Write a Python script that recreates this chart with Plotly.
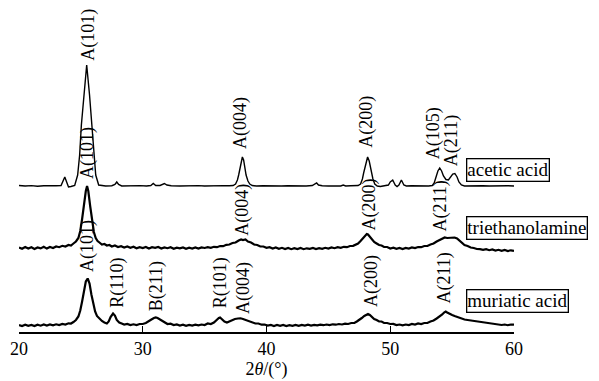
import plotly.graph_objects as go

# ---------------- data ----------------
acetic_2theta = [20.0, 20.5, 21.0, 21.5, 22.0, 22.5, 23.0, 23.4, 23.55, 23.7, 23.85, 24.0, 24.2, 24.5,
                 24.74, 24.9, 25.04, 25.24, 25.47, 25.70, 25.90, 26.04, 26.2, 26.44, 26.7, 27.0, 27.5,
                 27.75, 27.9, 28.05, 28.3, 28.8, 29.3, 29.8, 30.3, 30.65, 30.85, 31.05, 31.4, 31.6, 31.75,
                 31.95, 32.3, 33.0, 33.5, 34.0, 34.5, 35.0, 35.5, 36.0, 36.5, 37.0, 37.3, 37.5, 37.65,
                 37.75, 37.87, 37.95, 38.05, 38.15, 38.25, 38.35, 38.5, 38.65, 38.85, 39.2, 39.7, 40.2,
                 40.7, 41.2, 41.7, 42.2, 42.7, 43.2, 43.7, 43.9, 44.05, 44.2, 44.5, 45.0, 45.5, 46.0,
                 46.2, 46.4, 46.8, 47.2, 47.4, 47.6, 47.75, 47.85, 47.95, 48.05, 48.17, 48.3, 48.4, 48.5,
                 48.6, 48.75, 48.95, 49.2, 49.6, 49.85, 50.0, 50.2, 50.4, 50.55, 50.7, 50.9, 51.1, 51.3,
                 51.7, 52.2, 52.7, 53.1, 53.4, 53.55, 53.7, 53.85, 54.0, 54.15, 54.3, 54.5, 54.7, 54.9,
                 55.05, 55.22, 55.4, 55.55, 55.75, 56.0, 56.5, 57.0, 57.5, 58.0, 58.5, 59.0, 59.5, 60.0]
acetic_intensity = [0.5, 0, 0.4, -0.2, 0.3, 0, 0.3, 0.5, 4, 9, 4, -1, -0.5, 0.5,
                    11, 31, 61, 91, 121, 91, 61, 31, 11, 1, 0.3, 0, 0.3,
                    1.5, 4, 1.5, 0, 0.3, 0, 0.4, 0, 0.5, 2.5, 0.5, 0.5, 1.5, 2.5,
                    1.0, 0.3, 0, 0.3, 0, 0.4, 0, 0.3, 0, 0.4, 0.3, 0.5, 2, 6,
                    11, 20, 26, 29, 26, 19, 11, 5, 2, 0.5, 0, 0.3, 0,
                    0.3, 0, 0.3, 0, 0.3, 0, 0.5, 1.5, 3, 1.0, 0.3, 0, 0.3, 0,
                    1.0, 0, 0.3, 0.3, 0.5, 2, 7, 13, 19, 25, 29, 25, 19, 13,
                    7, 2, 0, -0.5, 0, 1, 4, 6, 1, -0.5, 1, 6, 1, 0,
                    0.3, 0, 0.3, 0, 0.5, 3, 9, 15, 18, 15, 10, 6.5, 6, 9,
                    12, 12.5, 9, 4, 1, 0, 0.3, 0, 0.3, 0, 0.3, 0, 0.3, 0]

trieth_2theta = [20.0, 20.25, 20.5, 20.75, 21.0, 21.25, 21.5, 21.75, 22.0, 22.25, 22.5, 22.75, 23.0, 23.25,
                 23.5, 23.75, 24.0, 24.2, 24.4, 24.6, 24.8, 24.95, 25.1, 25.25, 25.4, 25.5, 25.6, 25.75,
                 25.9, 26.05, 26.2, 26.35, 26.5, 26.7, 26.9, 27.1, 27.3, 27.5, 27.75, 28.0, 28.25, 28.5,
                 28.75, 29.0, 29.25, 29.5, 29.75, 30.0, 30.25, 30.5, 30.75, 31.0, 31.25, 31.5, 31.75, 32.0,
                 32.25, 32.5, 32.75, 33.0, 33.25, 33.5, 33.75, 34.0, 34.25, 34.5, 34.75, 35.0, 35.25, 35.5,
                 35.75, 36.0, 36.25, 36.5, 36.75, 37.0, 37.25, 37.5, 37.75, 37.95, 38.1, 38.3, 38.5, 38.75,
                 39.0, 39.25, 39.5, 39.75, 40.0, 40.25, 40.5, 40.75, 41.0, 41.25, 41.5, 41.75, 42.0, 42.25,
                 42.5, 42.75, 43.0, 43.25, 43.5, 43.75, 44.0, 44.25, 44.5, 44.75, 45.0, 45.25, 45.5, 45.75,
                 46.0, 46.25, 46.5, 46.75, 47.0, 47.2, 47.4, 47.6, 47.8, 47.95, 48.1, 48.2, 48.35, 48.5,
                 48.7, 48.9, 49.1, 49.3, 49.5, 49.75, 50.0, 50.25, 50.5, 50.75, 51.0, 51.25, 51.5, 51.75,
                 52.0, 52.25, 52.5, 52.75, 53.0, 53.25, 53.5, 53.75, 54.0, 54.2, 54.4, 54.6, 54.8, 55.0,
                 55.2, 55.4, 55.6, 55.8, 56.0, 56.25, 56.5, 56.75, 57.0, 57.25, 57.5, 57.75, 58.0, 58.25,
                 58.5, 58.75, 59.0, 59.25, 59.5, 59.75, 60.0]
trieth_intensity = [0.5, -0.8, 1.0, -0.5, 0.8, -1.0, 0.6, -0.4, 1.2, -0.6, 1.0, 0.0, 1.6, 0.8,
                    2.2, 1.5, 3.0, 2.5, 4.5, 6.5, 10, 17, 29, 44, 57, 62, 57, 42,
                    27, 16, 10, 7, 5.5, 3.5, 4.0, 2.5, 3.0, 1.5, 2.5, 1.0, 1.8, 0.5,
                    1.5, 0.2, 1.2, -0.3, 0.8, 0.0, 1.0, -0.5, 0.8, 0.2, 1.0, -0.6, 0.6, -0.2,
                    0.8, -0.8, 0.4, -0.3, 0.6, -0.8, 0.3, -0.5, 0.6, -0.6, 0.5, 0.0, 0.8, 0.2,
                    1.2, 0.8, 2.0, 1.8, 3.2, 3.5, 5.0, 5.5, 7.5, 8.5, 8.0, 8.5, 6.5, 5.5,
                    3.5, 3.0, 1.5, 1.5, 0.2, 0.8, -0.5, 0.5, -0.8, 0.2, -1.0, 0.0, -1.2, -0.2,
                    -1.0, 0.0, -1.2, -0.3, -0.8, 0.0, -1.0, -0.2, -0.8, 0.2, -0.5, 0.5, -0.2, 0.8,
                    0.2, 1.2, 0.8, 2.0, 2.2, 3.5, 4.5, 7.0, 9.5, 12, 14, 13.5, 11, 8.5,
                    6.0, 4.5, 3.0, 2.5, 1.0, 1.0, -0.5, 0.3, -0.8, 0.0, -1.0, 0.0, -0.5, 0.5,
                    0.0, 1.0, 0.8, 2.0, 2.0, 3.5, 4.5, 6.5, 8.0, 9.5, 10.5, 10, 10, 10.5,
                    10.5, 9.5, 7.5, 5, 3, 2, 0.5, 0.0, -1.0, -1.2, -1.8, -1.2, -2.2, -1.5,
                    -2.5, -1.8, -2.8, -2.0, -3.0, -2.3, -2.8]

muriatic_2theta = [20.0, 20.25, 20.5, 20.75, 21.0, 21.25, 21.5, 21.75, 22.0, 22.25, 22.5, 22.75, 23.0, 23.25,
                   23.5, 23.75, 24.0, 24.2, 24.4, 24.6, 24.8, 24.95, 25.1, 25.25, 25.4, 25.55, 25.7, 25.85,
                   26.0, 26.15, 26.3, 26.5, 26.7, 26.9, 27.1, 27.25, 27.4, 27.6, 27.75, 27.9, 28.1, 28.3,
                   28.5, 28.75, 29.0, 29.25, 29.5, 29.75, 30.0, 30.25, 30.5, 30.7, 30.9, 31.05, 31.2, 31.4,
                   31.6, 31.8, 32.0, 32.25, 32.5, 32.75, 33.0, 33.25, 33.5, 33.75, 34.0, 34.25, 34.5, 34.75,
                   35.0, 35.25, 35.5, 35.75, 35.95, 36.15, 36.25, 36.4, 36.6, 36.8, 37.0, 37.2, 37.45, 37.7,
                   37.9, 38.1, 38.35, 38.6, 38.85, 39.1, 39.35, 39.6, 39.85, 40.1, 40.35, 40.6, 40.85, 41.1,
                   41.35, 41.6, 41.85, 42.1, 42.35, 42.6, 42.85, 43.1, 43.35, 43.6, 43.85, 44.1, 44.35, 44.6,
                   44.85, 45.1, 45.35, 45.6, 45.85, 46.1, 46.35, 46.6, 46.85, 47.1, 47.3, 47.5, 47.7, 47.9,
                   48.05, 48.2, 48.35, 48.5, 48.7, 48.9, 49.1, 49.3, 49.5, 49.75, 50.0, 50.25, 50.5, 50.75,
                   51.0, 51.25, 51.5, 51.75, 52.0, 52.25, 52.5, 52.75, 53.0, 53.25, 53.5, 53.75, 54.0, 54.2,
                   54.35, 54.48, 54.6, 54.8, 55.0, 55.2, 55.4, 55.6, 55.8, 56.0, 56.25, 56.5, 56.75, 57.0,
                   57.25, 57.5, 57.75, 58.0, 58.25, 58.5, 58.75, 59.0, 59.25, 59.5, 59.75, 60.0]
muriatic_intensity = [0.5, -0.5, 0.8, -0.3, 0.6, -0.6, 0.8, -0.2, 1.0, 0.0, 1.0, 0.2, 1.2, 0.5,
                      1.5, 1.0, 2.2, 2.0, 3.5, 5.5, 9, 15, 24, 35, 44, 47, 42, 31,
                      21, 14, 9.5, 6.5, 4.5, 3.0, 2.0, 4.0, 8.5, 12, 10, 5.5, 3.0, 2.0,
                      1.0, 1.5, 0.5, 1.2, 0.5, 1.5, 1.5, 2.5, 4.0, 6.0, 7.5, 8, 7.5, 6,
                      4, 3, 1.5, 1.8, 0.5, 1.0, 0.0, 0.8, -0.3, 0.6, 0.0, 0.8, 0.2, 1.0,
                      0.5, 2.0, 1.5, 3.0, 5.5, 7.5, 8, 6.5, 4.0, 3.0, 4.0, 5.5, 6.5, 7.0,
                      7.2, 6.5, 5.5, 4.0, 3.5, 2.0, 2.0, 0.8, 1.0, 0.0, 0.5, -0.5, 0.5, -0.3,
                      0.6, -0.5, 0.3, -0.3, 0.5, -0.4, 0.6, 0.0, 0.8, 0.0, 0.6, 0.2, 0.9, 0.3,
                      1.0, 0.4, 1.2, 0.8, 1.5, 1.0, 1.8, 1.5, 2.5, 2.5, 4.0, 5.5, 7.5, 9.5,
                      10.5, 11.5, 10.5, 8.5, 6.5, 5.5, 4.0, 4.0, 2.5, 2.5, 1.5, 1.6, 0.5, 1.0,
                      0.2, 1.0, 0.5, 1.5, 1.0, 2.0, 1.5, 2.5, 2.5, 4.0, 5.0, 7.0, 9.0, 11,
                      13, 14, 13, 11.5, 10.5, 9.5, 8.5, 7.5, 7.0, 6.0, 5.5, 5.0, 5.0, 4.0,
                      3.5, 3.0, 2.5, 2.0, 1.5, 1.0, 1.2, 0.5, 1.0, 0.3, 1.0, 0.8]

sample_names = ["acetic acid", "triethanolamine", "muriatic acid"]

acetic_peak_labels = ["A(101)", "A(004)", "A(200)", "A(105)", "A(211)"]
acetic_peak_2theta = [25.55, 37.86, 48.02, 53.48, 54.96]
trieth_peak_labels = ["A(101)", "A(004)", "A(200)", "A(211)"]
trieth_peak_2theta = [25.5, 38.0, 48.25, 54.1]
muriatic_peak_labels = ["A(101)", "R(110)", "B(211)", "R(101)", "A(004)", "A(200)", "A(211)"]
muriatic_peak_2theta = [25.5, 27.9, 31.1, 36.3, 38.1, 48.45, 54.35]

x_ticks = [20, 30, 40, 50, 60]

# ---------------- layout helpers (vertical stacking / label heights) ----------------
acetic_offset = 146
trieth_offset = 84
muriatic_offset = 6.5

acetic_label_y = [270, 182, 183, 172, 165]
trieth_label_y = [152, 95, 100, 100]
muriatic_label_y = [59, 23, 20, 23, 17, 24, 27]
legend_y = [162.5, 104.5, 31.5]

FONT = "Liberation Serif"

fig = go.Figure()
fig.add_trace(go.Scatter(x=acetic_2theta, y=[v + acetic_offset for v in acetic_intensity],
                         mode="lines", line=dict(color="black", width=1.4), name=sample_names[0]))
fig.add_trace(go.Scatter(x=trieth_2theta, y=[v + trieth_offset for v in trieth_intensity],
                         mode="lines", line=dict(color="black", width=2.2), name=sample_names[1]))
fig.add_trace(go.Scatter(x=muriatic_2theta, y=[v + muriatic_offset for v in muriatic_intensity],
                         mode="lines", line=dict(color="black", width=2.2), name=sample_names[2]))

annotations = []
for labels, xs, ys in [(acetic_peak_labels, acetic_peak_2theta, acetic_label_y),
                       (trieth_peak_labels, trieth_peak_2theta, trieth_label_y),
                       (muriatic_peak_labels, muriatic_peak_2theta, muriatic_label_y)]:
    for t, xv, yv in zip(labels, xs, ys):
        annotations.append(dict(x=xv, y=yv, xref="x", yref="y", text=t, showarrow=False,
                                textangle=-90, xanchor="center", yanchor="bottom",
                                font=dict(family=FONT, size=18, color="black"), borderpad=0))

for name, yv in zip(sample_names, legend_y):
    annotations.append(dict(x=56.12, y=yv, xref="x", yref="y", text=name, showarrow=False,
                            xanchor="left", yanchor="middle",
                            font=dict(family=FONT, size=19, color="black"),
                            bordercolor="black", borderwidth=1.3, borderpad=0,
                            bgcolor="white"))

fig.update_layout(
    width=599, height=381,
    margin=dict(l=19, r=85, t=0, b=49),
    paper_bgcolor="white", plot_bgcolor="white",
    showlegend=False,
    annotations=annotations,
    font=dict(family=FONT, color="black"),
    xaxis=dict(range=[20, 60], tickvals=x_ticks, ticks="inside", ticklen=6, tickwidth=1.3,
               tickcolor="black", showline=True, linecolor="black", linewidth=1.5,
               showgrid=False, zeroline=False,
               tickfont=dict(family=FONT, size=18, color="black"),
               title=dict(text="2<i>θ</i>/(°)", font=dict(family=FONT, size=18, color="black"),
                          standoff=4)),
    yaxis=dict(range=[0, 332], visible=False, showgrid=False, zeroline=False),
)

fig.write_html("out.html", config={"displayModeBar": False},
               post_script="document.body.style.margin='0';document.body.style.overflow='hidden';")
